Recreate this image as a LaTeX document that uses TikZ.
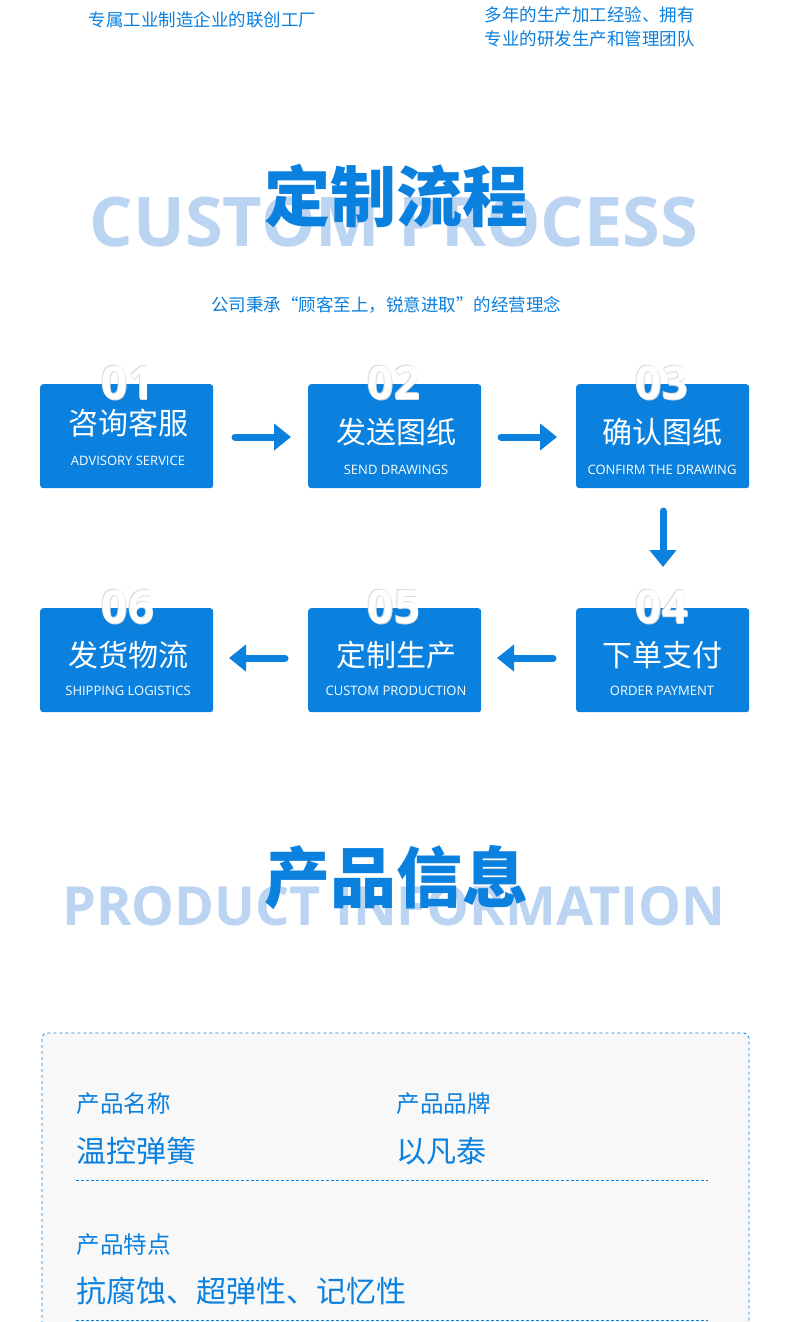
\documentclass[tikz,border=0pt]{standalone}
\usepackage{fontspec}
\usepackage{graphicx}
\setmainfont{Open Sans}
\newfontfamily\cjk{Noto Sans CJK SC}
\usetikzlibrary{arrows.meta}
\definecolor{mblue}{HTML}{0A80DF}
\definecolor{lblue}{HTML}{BBD4F2}
\definecolor{cardbg}{HTML}{F8F8F8}
\tikzset{
 stepbox/.style={fill=mblue,rounded corners=3pt,minimum width=173pt,minimum height=104pt,anchor=north west},
 num/.style={text=white,font=\bfseries\fontsize{46}{46}\selectfont},
 numsh/.style={text=black!14,font=\bfseries\fontsize{46}{46}\selectfont},
 cn/.style={text=white,font=\cjk\fontsize{30}{30}\selectfont},
 en/.style={text=white,font=\fontsize{13}{13}\selectfont},
 flow/.style={mblue,line width=7pt,line cap=round,-{Triangle[length=17pt,width=26pt]}},
 small/.style={text=mblue,font=\cjk\fontsize{17.5}{24}\selectfont},
 lab/.style={text=mblue,font=\cjk\fontsize{23.5}{24}\selectfont,anchor=west},
 val/.style={text=mblue,font=\cjk\fontsize{30}{30}\selectfont,anchor=west},
 big/.style={text=mblue,font=\cjk\bfseries\fontsize{66}{66}\selectfont},
 bg/.style={text=lblue,font=\bfseries}
}
\newcommand\stepnum[2]{%
 \node[numsh] at ([shift={(0.8,0.8)}]#1) {#2};
 \node[numsh] at ([shift={(-0.8,-0.8)}]#1) {#2};
 \node[num] at (#1) {#2};}
\begin{document}
\begin{tikzpicture}[x=1pt,y=-1pt]
\useasboundingbox[fill=white] (0,0) rectangle (790,1322);
\node[small,anchor=west] (t1) at (85,20) {专属工业制造企业的联创工厂};
\node[small,anchor=west,align=left] (t2) at (481,27) {多年的生产加工经验、拥有\\专业的研发生产和管理团队};
\node[bg] (bg1) at (394,222) {\resizebox{608pt}{!}{CUSTOM PROCESS}};
\node[big] (h1) at (396,196) {定制流程};
\node[small] (sub) at (386,305) {公司秉承“顾客至上，锐意进取”的经营理念};
% boxes
\node[stepbox] (b1) at (40,384) {};
\node[stepbox] (b2) at (308,384) {};
\node[stepbox] (b3) at (576,384) {};
\node[stepbox] (b4) at (576,608) {};
\node[stepbox] (b5) at (308,608) {};
\node[stepbox] (b6) at (40,608) {};
\stepnum{128,383}{01}
\stepnum{394,383}{02}
\stepnum{662,383}{03}
\stepnum{662,607}{04}
\stepnum{394,607}{05}
\stepnum{128,607}{06}
\node[cn] at (128,423) {咨询客服};
\node[en] at (128,461) {ADVISORY SERVICE};
\node[cn] at (396,432) {发送图纸};
\node[en] at (396,470) {SEND DRAWINGS};
\node[cn] at (662,432) {确认图纸};
\node[en] at (662,470) {CONFIRM THE DRAWING};
\node[cn] at (662,655) {下单支付};
\node[en] at (662,691) {ORDER PAYMENT};
\node[cn] at (396,655) {定制生产};
\node[en] at (396,691) {CUSTOM PRODUCTION};
\node[cn] at (128,655) {发货物流};
\node[en] at (128,691) {SHIPPING LOGISTICS};
% arrows
\coordinate (a1s) at (235,437); \coordinate (a1e) at (291,437);
\coordinate (a2s) at (501,437); \coordinate (a2e) at (557,437);
\coordinate (a3s) at (663,511); \coordinate (a3e) at (663,567);
\coordinate (a4s) at (553,658); \coordinate (a4e) at (497,658);
\coordinate (a5s) at (285,658); \coordinate (a5e) at (229,658);
\draw[flow] (a1s) -- (a1e);
\draw[flow] (a2s) -- (a2e);
\draw[flow] (a3s) -- (a3e);
\draw[flow] (a4s) -- (a4e);
\draw[flow] (a5s) -- (a5e);
% product info
\node[bg] (bg2) at (394,906) {\resizebox{663pt}{!}{PRODUCT INFORMATION}};
\node[big] (h2) at (396,878) {产品信息};
\draw[mblue,dashed,fill=cardbg,rounded corners=5pt,line width=0.8pt] (42,1360) -- (42,1033) -- (749,1033) -- (749,1360);
\node[lab] (l1) at (73,1104) {产品名称};
\node[val] (v1) at (73,1151) {温控弹簧};
\node[lab] (l2) at (393,1104) {产品品牌};
\node[val] (v2) at (393,1151) {以凡泰};
\draw[mblue,densely dashed,line width=1pt] (76,1180) -- (708,1180);
\node[lab] (l3) at (73,1245) {产品特点};
\node[val] (v3) at (73,1291) {抗腐蚀、超弹性、记忆性};
\draw[mblue,densely dashed,line width=1pt] (76,1320) -- (708,1320);
\end{tikzpicture}
\end{document}
